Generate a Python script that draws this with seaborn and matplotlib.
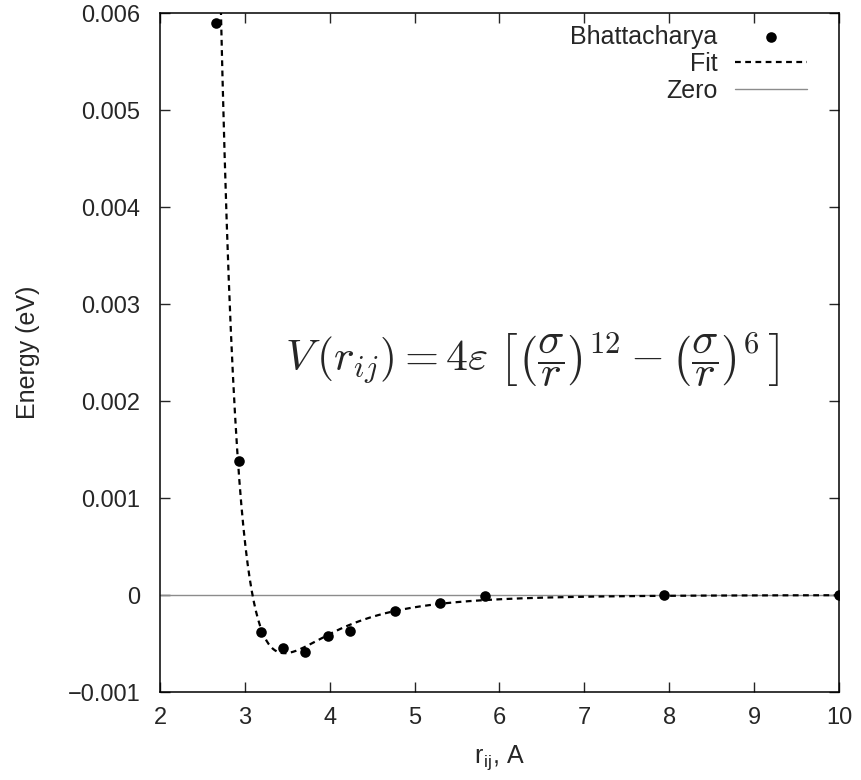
"""Lennard-Jones fit to Bhattacharya pair energies"""

import matplotlib

matplotlib.use("Agg")
import matplotlib.pyplot as plt
import numpy as np
import pandas as pd
import seaborn as sns
from matplotlib.ticker import FuncFormatter

# Bhattacharya data points (r in Angstrom, energy in eV)
r_points = [2.656, 2.93, 3.19, 3.45, 3.71, 3.98, 4.24, 4.77, 5.30, 5.83, 7.94, 10.0]
e_points = [0.0059, 0.00138, -0.000385, -0.000545, -0.000583, -0.000419,
            -0.000374, -0.000169, -0.000086, -0.000014, -0.000002, 0.0]

# fitted Lennard-Jones parameters
lj_epsilon = 0.0006
lj_sigma = 3.09

x_ticks = [2, 3, 4, 5, 6, 7, 8, 9, 10]
y_ticks = [-0.001, 0, 0.001, 0.002, 0.003, 0.004, 0.005, 0.006]


def lennard_jones(r, eps, sigma):
    sr6 = (sigma / r) ** 6
    return 4 * eps * (sr6 * sr6 - sr6)


sns.set_theme(style="ticks")
plt.rcParams["font.family"] = ["Liberation Sans", "DejaVu Sans"]
plt.rcParams["mathtext.fontset"] = "cm"

df = pd.DataFrame({"r": r_points, "energy": e_points})
r_fit = np.linspace(2.6, 10, 600)
fit_df = pd.DataFrame({"r": r_fit, "energy": lennard_jones(r_fit, lj_epsilon, lj_sigma)})

fig = plt.figure(figsize=(8.62, 7.8), dpi=100)
ax = fig.add_axes([0.1856, 0.1128, 0.7877, 0.8705])

ax.axhline(0, color="#8c8c8c", lw=1.0, zorder=1, label="Zero")
sns.lineplot(data=fit_df, x="r", y="energy", ax=ax, color="black", lw=1.6,
             linestyle=(0, (2.6, 2.0)), label="Fit", zorder=2)
sns.scatterplot(data=df, x="r", y="energy", ax=ax, color="black", s=58,
                edgecolor="black", linewidth=0, label="Bhattacharya", zorder=3)

ax.set_xlim(2, 10)
ax.set_ylim(-0.001, 0.006)
ax.set_xticks(x_ticks)
ax.set_yticks(y_ticks)
ax.yaxis.set_major_formatter(FuncFormatter(
    lambda v, _: "0" if abs(v) < 1e-12 else f"{v:.3f}".replace("-", "\u2212")))
ax.tick_params(direction="in", length=7, width=1, labelsize=17,
               top=True, right=True)
ax.tick_params(axis="x", pad=11)
ax.tick_params(axis="y", pad=14)
for sp in ax.spines.values():
    sp.set_linewidth(1.1)
    sp.set_color("black")

ax.set_xlabel(r"r$_{\mathregular{ij}}$, A", fontsize=18, labelpad=10)
ax.set_ylabel("Energy (eV)", fontsize=18, labelpad=20)

ax.text(0.184, 0.49,
        r"$V\,(r_{ij}) = 4\varepsilon\;\left[\left(\dfrac{\sigma}{r}\right)^{12}"
        r" - \left(\dfrac{\sigma}{r}\right)^{6}\,\right]$",
        transform=ax.transAxes, fontsize=31.5, va="center", ha="left")

handles, labels = ax.get_legend_handles_labels()
order = [labels.index(n) for n in ["Bhattacharya", "Fit", "Zero"]]
ax.legend([handles[i] for i in order], [labels[i] for i in order],
          loc="upper right", bbox_to_anchor=(0.975, 1.005), frameon=False,
          markerfirst=False, fontsize=18, handlelength=2.9,
          handletextpad=0.68, labelspacing=0.12, borderaxespad=0.2)

fig.savefig("out.png", dpi=100)
plt.close(fig)
